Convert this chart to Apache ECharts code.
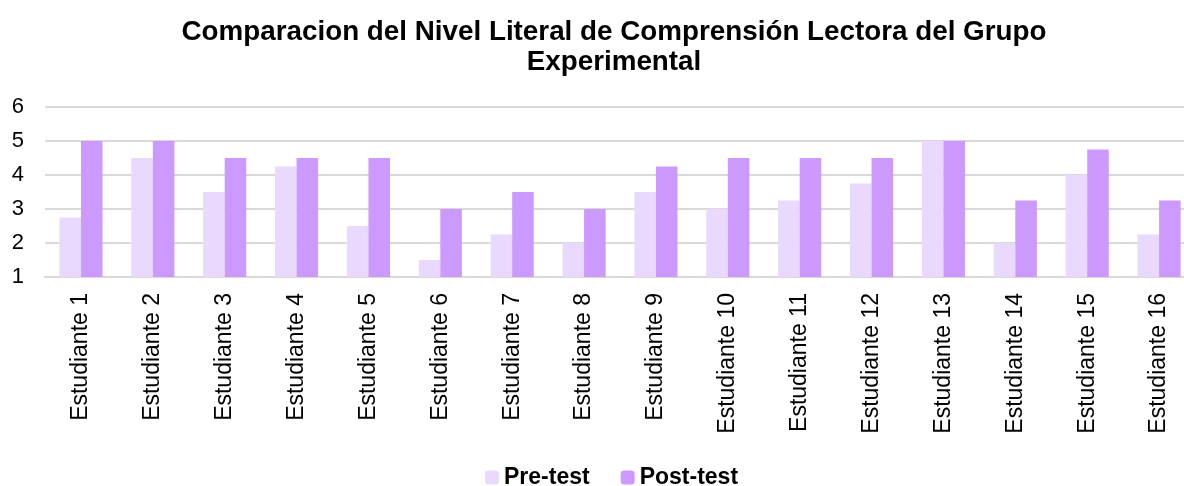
<!DOCTYPE html>
<html>
<head>
<meta charset="utf-8">
<script src="https://cdn.jsdelivr.net/npm/echarts@6/dist/echarts.min.js"></script>
<style>
  html, body { margin: 0; padding: 0; background: #fff; }
  #chart { width: 1184px; height: 486px; }
</style>
</head>
<body>
<div id="chart"></div>
<script>
// datos del grafico
const categorias = ['Estudiante 1', 'Estudiante 2', 'Estudiante 3', 'Estudiante 4', 'Estudiante 5', 'Estudiante 6',
    'Estudiante 7', 'Estudiante 8', 'Estudiante 9', 'Estudiante 10', 'Estudiante 11', 'Estudiante 12',
    'Estudiante 13', 'Estudiante 14', 'Estudiante 15', 'Estudiante 16'];
const preTest = [2.75, 4.5, 3.5, 4.25, 2.5, 1.5, 2.25, 2, 3.5, 3, 3.25, 3.75, 5, 2, 4, 2.25];
const postTest = [5, 5, 4.5, 4.5, 4.5, 3, 3.5, 3, 4.25, 4.5, 4.5, 4.5, 5, 3.25, 4.75, 3.25];

const font = 'Arial, "Liberation Sans", sans-serif';
const chart = echarts.init(document.getElementById('chart'));

chart.setOption({
    animation: false,
    title: {
        text: 'Comparacion del Nivel Literal de Comprensión Lectora del Grupo\nExperimental',
        left: 609,
        textAlign: 'center',
        top: 12,
        textStyle: { fontFamily: font, fontSize: 27.8, fontWeight: 'bold', color: '#000', lineHeight: 30 }
    },
    legend: {
        bottom: -8,
        left: 480,
        itemWidth: 14,
        itemHeight: 14,
        itemGap: 31,
        textStyle: { fontFamily: font, fontSize: 23, fontWeight: 'bold', color: '#000' },
        data: ['Pre-test', 'Post-test']
    },
    grid: { left: 45, right: -11, top: 107, bottom: 209, outerBoundsMode: 'none' },
    xAxis: {
        type: 'category',
        data: categorias,
        axisLine: { lineStyle: { color: '#d9d9d9', width: 2 } },
        axisTick: { show: false },
        axisLabel: { rotate: 90, fontFamily: font, fontSize: 23, color: '#000', margin: 16 }
    },
    yAxis: {
        type: 'value',
        min: 1,
        max: 6,
        interval: 1,
        axisLine: { show: false },
        axisTick: { show: false },
        axisLabel: { fontFamily: font, fontSize: 22, color: '#000', margin: 21 },
        splitLine: { lineStyle: { color: '#d9d9d9', width: 2 } }
    },
    series: [
        {
            name: 'Pre-test',
            type: 'bar',
            data: preTest,
            barGap: '0%',
            barCategoryGap: '40%',
            itemStyle: { color: '#e9d9fe' }
        },
        {
            name: 'Post-test',
            type: 'bar',
            data: postTest,
            barGap: '0%',
            barCategoryGap: '40%',
            itemStyle: { color: '#cc99ff' }
        }
    ]
});
</script>
</body>
</html>
